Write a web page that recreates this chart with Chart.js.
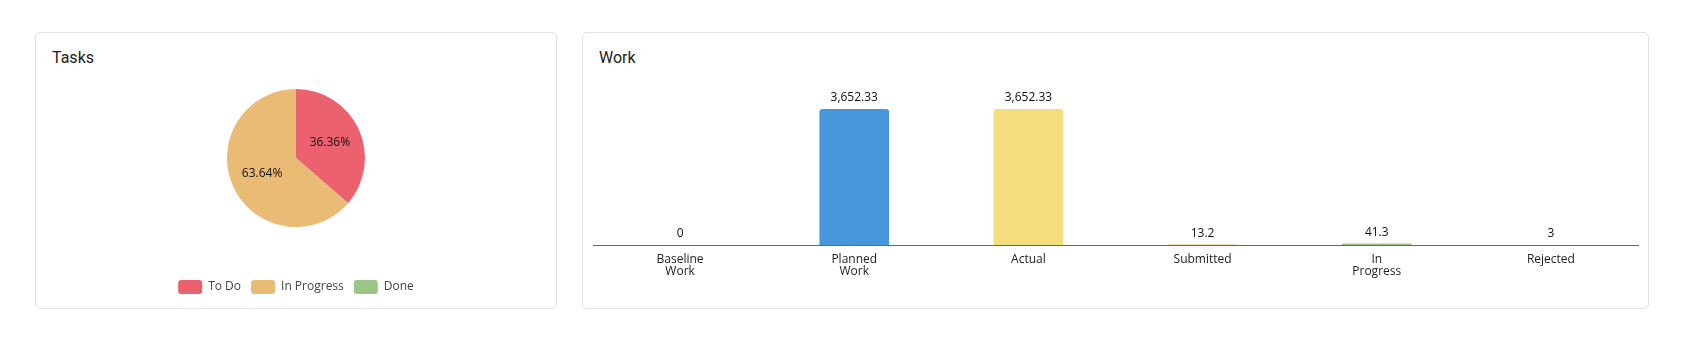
<!DOCTYPE html>
<html>
<head>
<meta charset="utf-8">
<script src="https://cdn.jsdelivr.net/npm/chart.js@4/dist/chart.umd.min.js"></script>
<style>
  body { margin: 0; background: #fff; width: 1686px; height: 353px; overflow: hidden; }
  .card { position: absolute; top: 32px; height: 275px; border: 1px solid #e1e1e6; border-radius: 5px; background: #fff; }
  .titulo { position: absolute; left: 16px; top: 15px; font: 16px Roboto, sans-serif; color: #222; }
  .card canvas { position: absolute; }
</style>
</head>
<body>
<div class="card" style="left:35px; width:520px;">
  <div class="titulo">Tasks</div>
  <canvas id="tareas"></canvas>
</div>
<div class="card" style="left:582px; width:1065px;">
  <div class="titulo">Work</div>
  <canvas id="trabajo"></canvas>
</div>
<script>
// datos de la torta
const estados = ["To Do", "In Progress", "Done"];
const cantTareas = [4, 7, 0];
const coloresTareas = ["#eb616e", "#eabb74", "#9bc585"];

// datos de las barras
const categorias = [["Baseline", "Work"], ["Planned", "Work"], "Actual", "Submitted", ["In", "Progress"], "Rejected"];
const horas = [0, 3652.33, 3652.33, 13.2, 41.3, 3];
const coloresHoras = ["#a0a0a0", "#4795da", "#f3dd7d", "#eabb74", "#9bc585", "#eb616e"];

const fuente = "'Open Sans', sans-serif";

// porcentajes dentro de la torta
const etiquetasTorta = {
  id: "etiquetasTorta",
  afterDatasetsDraw(chart) {
    const ctx = chart.ctx;
    const meta = chart.getDatasetMeta(0);
    const total = cantTareas.reduce((a, b) => a + b, 0);
    ctx.save();
    ctx.font = "12px " + fuente;
    ctx.fillStyle = "#111";
    ctx.textAlign = "center";
    ctx.textBaseline = "middle";
    meta.data.forEach((arco, i) => {
      if (!cantTareas[i]) return;
      const p = arco.getProps(["x", "y", "startAngle", "endAngle", "outerRadius"], true);
      const medio = (p.startAngle + p.endAngle) / 2;
      const r = p.outerRadius * 0.54;
      const txt = (cantTareas[i] / total * 100).toFixed(2) + "%";
      ctx.fillText(txt, p.x + Math.cos(medio) * r, p.y + Math.sin(medio) * r);
    });
    ctx.restore();
  }
};

// valores arriba de cada barra
const etiquetasBarras = {
  id: "etiquetasBarras",
  afterDatasetsDraw(chart) {
    const ctx = chart.ctx;
    const meta = chart.getDatasetMeta(0);
    ctx.save();
    ctx.font = "12px " + fuente;
    ctx.fillStyle = "#111";
    ctx.textAlign = "center";
    ctx.textBaseline = "middle";
    meta.data.forEach((barra, i) => {
      const txt = horas[i].toLocaleString("en-US", { maximumFractionDigits: 2 });
      ctx.fillText(txt, barra.x, barra.y - 11);
    });
    ctx.restore();
  }
};

const lienzoTorta = document.getElementById("tareas");
lienzoTorta.style.left = "0px";
lienzoTorta.style.top = "13px";
lienzoTorta.width = 520;
lienzoTorta.height = 258;

new Chart(lienzoTorta, {
  type: "pie",
  data: {
    labels: estados,
    datasets: [{
      data: cantTareas,
      backgroundColor: coloresTareas,
      borderWidth: 0,
      radius: 69
    }]
  },
  options: {
    responsive: false,
    animation: false,
    layout: { padding: 0 },
    plugins: {
      tooltip: { enabled: false },
      legend: {
        position: "bottom",
        labels: {
          boxWidth: 24,
          boxHeight: 14,
          useBorderRadius: true,
          borderRadius: 3,
          padding: 10,
          color: "#444",
          font: { family: fuente, size: 12 }
        }
      }
    }
  },
  plugins: [etiquetasTorta]
});

const lienzoBarras = document.getElementById("trabajo");
lienzoBarras.style.left = "0px";
lienzoBarras.style.top = "38px";
lienzoBarras.width = 1065;
lienzoBarras.height = 236;

new Chart(lienzoBarras, {
  type: "bar",
  data: {
    labels: categorias,
    datasets: [{
      data: horas,
      backgroundColor: coloresHoras,
      borderRadius: 3,
      barPercentage: 0.5,
      categoryPercentage: 0.8
    }]
  },
  options: {
    responsive: false,
    animation: false,
    layout: { padding: { left: 10, right: 10, top: 25, bottom: 28 } },
    plugins: { legend: { display: false }, tooltip: { enabled: false } },
    scales: {
      y: { display: false, min: 0, max: 4000 },
      x: {
        grid: { display: false },
        border: { display: true, color: "#666", width: 1 },
        ticks: {
          color: "#222",
          padding: 1,
          maxRotation: 0,
          font: { family: fuente, size: 12, lineHeight: 1.0 }
        }
      }
    }
  },
  plugins: [etiquetasBarras]
});
</script>
</body>
</html>
